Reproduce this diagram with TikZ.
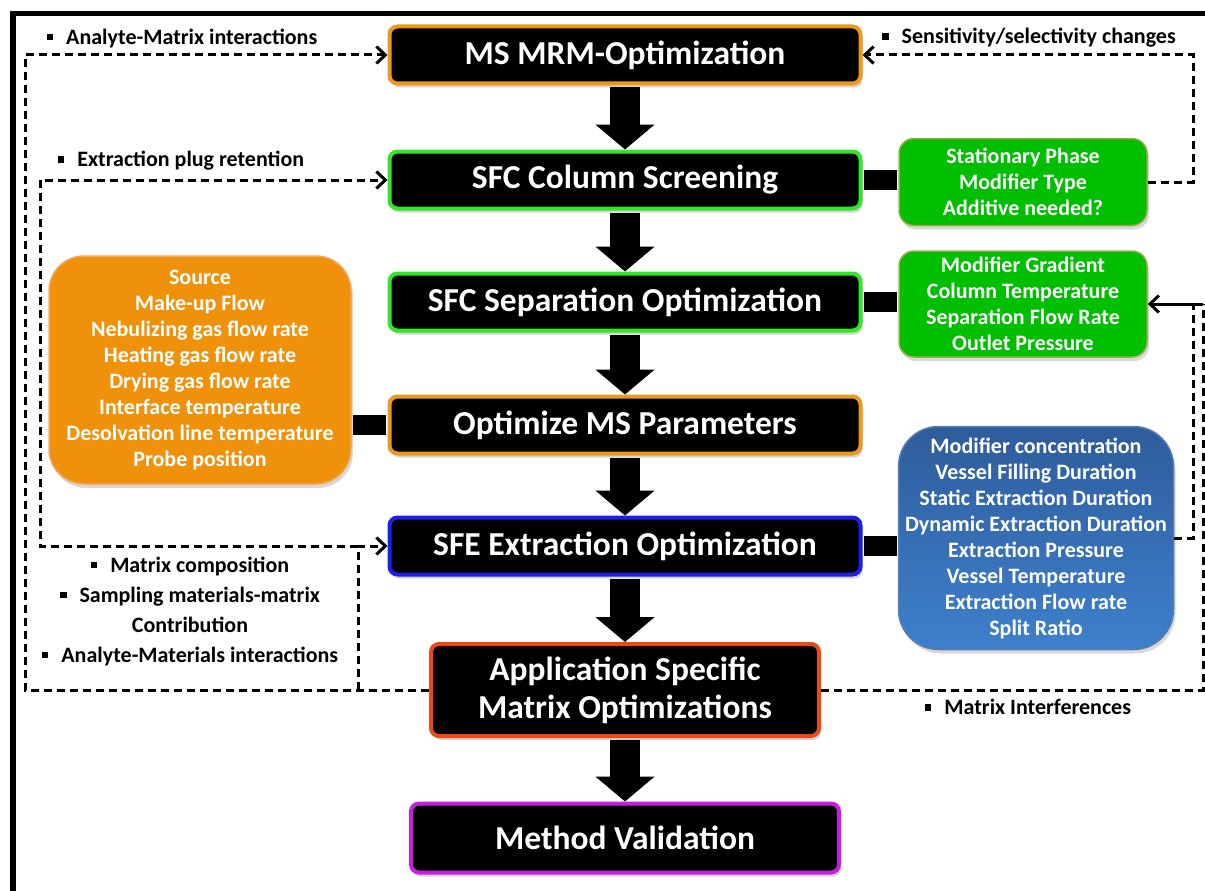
\documentclass[tikz,border=0pt]{standalone}
\usepackage{fontspec}
\setmainfont{Carlito}
\usetikzlibrary{arrows.meta,shadows}

\definecolor{mrmorange}{RGB}{236,152,24}
\definecolor{sfcgreen}{RGB}{50,230,40}
\definecolor{sfeblue}{RGB}{30,30,235}
\definecolor{appred}{RGB}{238,72,22}
\definecolor{valpurple}{RGB}{200,30,225}
\definecolor{sidegreen}{RGB}{0,190,0}
\definecolor{sidegreenrim}{RGB}{150,175,70}
\definecolor{sideorange}{RGB}{240,145,12}
\definecolor{sideorangerim}{RGB}{240,170,100}
\definecolor{sideblueA}{RGB}{46,92,156}
\definecolor{sideblueB}{RGB}{62,128,204}

\newcommand{\stagefont}{\fontsize{33.5}{38}\selectfont\bfseries}
\newcommand{\parfont}{\fontsize{22}{26}\selectfont\bfseries}
\newcommand{\notefont}{\fontsize{22}{30}\selectfont\bfseries}
\newcommand{\sq}{\rule[4pt]{6.5pt}{6.5pt}\hspace{13pt}}

\tikzstyle{stage}    = [draw,fill=black,text=white,rounded corners=8pt,line width=4pt,minimum width=471pt,minimum height=57pt,align=center,font=\stagefont,drop shadow={opacity=0.35,shadow xshift=2pt,shadow yshift=-4pt}]
\tikzstyle{params}   = [draw,text=white,line width=1.5pt,align=center,font=\parfont,drop shadow={opacity=0.3,shadow xshift=2pt,shadow yshift=-4pt}]
\tikzstyle{note}     = [align=center,font=\notefont]
\tikzstyle{flow}     = [line width=30pt,shorten <=2pt,-{Triangle[length=25pt,width=58pt]}]
\tikzstyle{bar}      = [line width=20pt,shorten <=1.5pt,shorten >=1pt]
\tikzstyle{feedback} = [line width=3pt,dash pattern=on 8pt off 5pt]
\tikzstyle{barb}     = [-{Straight Barb[length=9pt,width=17pt,line width=3pt]}]

\begin{document}
\begin{tikzpicture}[x=1pt,y=-1pt,node distance=123pt]
\useasboundingbox (0,0) rectangle (1205,891);

% frame
\draw[line width=5.5pt] (13,891) -- (13,13.5) -- (1205,13.5);

% main stages
\node[stage,draw=mrmorange] (mrm) at (625,55)             {MS MRM-Optimization};
\node[stage,draw=sfcgreen]  (column) [below of=mrm,node distance=125pt] {SFC Column Screening};
\node[stage,draw=sfcgreen]  (separation) [below of=column,node distance=122pt] {SFC Separation Optimization};
\node[stage,draw=mrmorange] (msparam) [below of=separation] {Optimize MS Parameters};
\node[stage,draw=sfeblue]   (sfe) [below of=msparam,node distance=121pt] {SFE Extraction Optimization};
\node[stage,draw=appred,minimum width=388pt,minimum height=92pt] (appl) [below of=sfe,node distance=144pt] {Application Specific\\Matrix Optimizations};
\node[stage,draw=valpurple,minimum width=428pt,minimum height=69pt] (valid) [below of=appl,node distance=148pt] {Method Validation};

% parameter boxes
\node[params,fill=sidegreen,draw=sidegreenrim,rounded corners=15pt,minimum width=248pt,minimum height=87pt] (phase) at (1023,182)
    {Stationary Phase\\Modifier Type\\Additive needed?};
\node[params,fill=sidegreen,draw=sidegreenrim,rounded corners=15pt,minimum width=248pt,minimum height=106pt] (sepparam) at (1023,304)
    {Modifier Gradient\\Column Temperature\\Separation Flow Rate\\Outlet Pressure};
\node[params,fill=sideorange,draw=sideorangerim,rounded corners=35pt,minimum width=302pt,minimum height=228pt] (ionsrc) at (200,370)
    {Source\\Make-up Flow\\Nebulizing gas flow rate\\Heating gas flow rate\\Drying gas flow rate\\Interface temperature\\Desolvation line temperature\\Probe position};
\node[params,top color=sideblueA,bottom color=sideblueB,draw=sideblueA!80!white,rounded corners=40pt,minimum width=275pt,minimum height=223pt] (extparam) at (1036,538)
    {Modifier concentration\\Vessel Filling Duration\\Static Extraction Duration\\Dynamic Extraction Duration\\Extraction Pressure\\Vessel Temperature\\Extraction Flow rate\\Split Ratio};

% rails of the feedback lines
\coordinate (railA) at (25,0);
\coordinate (railB) at (40,0);
\coordinate (railC) at (358,0);
\coordinate (railD) at (1193,0);
\coordinate (railE) at (1203,0);

% notes
\node[note] (n1) at (182,38)  {\sq Analyte-Matrix interactions};
\node[note] (n2) at (181,161) {\sq Extraction plug retention};
\node[note] (n3) at (1029,38) {\sq Sensitivity/selectivity changes};
\node[note] (n4) at (1028,707) {\sq Matrix Interferences};
\node[note] (n5) at (190,611) {\sq Matrix composition\\\sq Sampling materials-matrix\\Contribution\\\sq Analyte-Materials interactions};

% flow arrows
\draw[flow] (mrm.south) -- (column.north);
\draw[flow] (column.south) -- (separation.north);
\draw[flow] (separation.south) -- (msparam.north);
\draw[flow] (msparam.south) -- (sfe.north);
\draw[flow] (sfe.south) -- (appl.north);
\draw[flow] (appl.south) -- (valid.north);

% bars to the parameter boxes
\draw[bar] (column.east) -- (column.east -| phase.west);
\draw[bar] (separation.east) -- (separation.east -| sepparam.west);
\draw[bar] (msparam.west) -- (msparam.west -| ionsrc.east);
\draw[bar] (sfe.east) -- (sfe.east -| extparam.west);

% feedback lines
\draw[feedback,barb] (appl.west) -- (appl.west -| railA) |- (mrm.west);
\draw[feedback,barb] (appl.west -| railC) |- (sfe.west);
\draw[feedback,barb] (sfe.west -| railC) -- (sfe.west -| railB) |- (column.west);
\draw[feedback,barb] (phase.east) -- (phase.east -| railD) |- (mrm.east);
\draw[feedback] (extparam.east) -- (extparam.east -| railD) -- (sepparam.east -| railD);
\draw[feedback] (appl.east) -- (appl.east -| railE) -- (sepparam.east -| railE);
\draw[line width=3pt,barb] (sepparam.east -| railE) -- (sepparam.east);

\end{tikzpicture}
\end{document}
